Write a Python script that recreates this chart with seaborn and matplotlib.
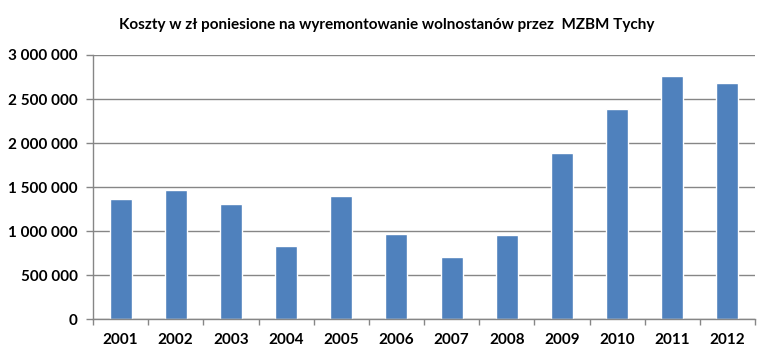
import matplotlib
matplotlib.use("Agg")
import matplotlib.pyplot as plt
from matplotlib.ticker import FuncFormatter, FixedLocator
import seaborn as sns
import pandas as pd
import numpy as np

years = ["2001", "2002", "2003", "2004", "2005", "2006",
         "2007", "2008", "2009", "2010", "2011", "2012"]
costs = [1367000, 1469000, 1310000, 833000, 1401000, 969000,
         711000, 958000, 1890000, 2390000, 2765000, 2685000]
title = "Koszty w zł poniesione na wyremontowanie wolnostanów przez  MZBM Tychy"
y_ticks = [0, 500000, 1000000, 1500000, 2000000, 2500000, 3000000]

df = pd.DataFrame({"rok": years, "koszt": costs})

sns.set_theme(style="white")
plt.rcParams["font.family"] = ["Lato", "DejaVu Sans"]

fig = plt.figure(figsize=(7.75, 3.62), dpi=100)
ax = fig.add_axes([93 / 775, 1 - 319.3 / 362, (755 - 93) / 775, (319.3 - 55) / 362])

sns.barplot(data=df, x="rok", y="koszt", color="#4F81BD", width=0.4,
            saturation=1, ax=ax)

ax.set_ylim(0, 3000000)
ax.set_xlim(-0.5, len(years) - 0.5)
ax.yaxis.set_major_locator(FixedLocator(y_ticks))
ax.yaxis.set_major_formatter(FuncFormatter(lambda v, p: f"{int(v):,}".replace(",", " ")))
ax.grid(axis="y", color="#868686", linewidth=1)
ax.set_axisbelow(True)

for s in ["top", "right"]:
    ax.spines[s].set_visible(False)
for s in ["left", "bottom"]:
    ax.spines[s].set_color("#868686")
    ax.spines[s].set_linewidth(1)

ax.set_xlabel("")
ax.set_ylabel("")
ax.tick_params(axis="y", direction="out", length=5, width=1, color="#868686",
               pad=6, labelsize=11, left=True)
ax.tick_params(axis="x", which="major", length=0, pad=10, labelsize=11)
ax.set_xticks(np.arange(-0.5, len(years), 1), minor=True)
ax.tick_params(axis="x", which="minor", direction="out", length=4, width=1,
               color="#868686", bottom=True)
for lbl in ax.get_xticklabels() + ax.get_yticklabels():
    lbl.set_fontweight("bold")
    lbl.set_color("black")

fig.text(387 / 775, 1 - 25 / 362, title, ha="center", va="center",
         fontsize=11, fontweight="bold", color="black")

fig.savefig("out.png", dpi=100, facecolor="white")
